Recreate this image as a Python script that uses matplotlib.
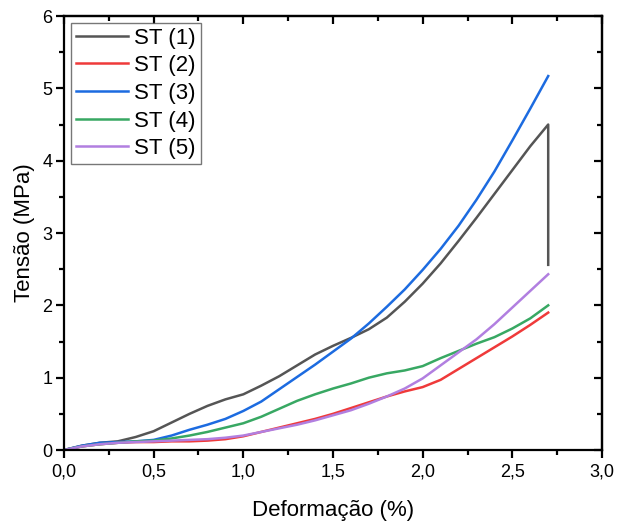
import matplotlib.pyplot as plt
from matplotlib.ticker import MultipleLocator, FuncFormatter

plt.rcParams['font.family'] = ['Liberation Sans', 'DejaVu Sans']

# deformação (%) comum às amostras
x = [0, 0.1, 0.2, 0.3, 0.4, 0.5, 0.6, 0.7, 0.8, 0.9, 1.0, 1.1, 1.2, 1.3,
     1.4, 1.5, 1.6, 1.7, 1.8, 1.9, 2.0, 2.1, 2.2, 2.3, 2.4, 2.5, 2.6, 2.7]

# ST (1) rompe em 2,7 % e cai na vertical
x_st1 = x + [2.7]
y_st1 = [0, 0.06, 0.1, 0.12, 0.18, 0.26, 0.38, 0.5, 0.61, 0.7, 0.77, 0.89,
         1.02, 1.17, 1.32, 1.44, 1.55, 1.67, 1.83, 2.05, 2.3, 2.58, 2.89,
         3.21, 3.54, 3.87, 4.2, 4.5, 2.56]
y_st2 = [0, 0.05, 0.08, 0.1, 0.11, 0.11, 0.12, 0.12, 0.13, 0.15, 0.19, 0.25,
         0.31, 0.37, 0.43, 0.5, 0.58, 0.66, 0.74, 0.81, 0.87, 0.97, 1.12,
         1.27, 1.42, 1.57, 1.73, 1.9]
y_st3 = [0, 0.06, 0.1, 0.11, 0.12, 0.14, 0.2, 0.28, 0.35, 0.43, 0.54, 0.67,
         0.84, 1.01, 1.18, 1.36, 1.54, 1.75, 1.98, 2.22, 2.49, 2.78, 3.1,
         3.46, 3.85, 4.28, 4.72, 5.17]
y_st4 = [0, 0.05, 0.08, 0.1, 0.12, 0.13, 0.16, 0.2, 0.25, 0.31, 0.37, 0.46,
         0.57, 0.68, 0.77, 0.85, 0.92, 1.0, 1.06, 1.1, 1.16, 1.27, 1.37,
         1.47, 1.56, 1.68, 1.82, 2.0]
y_st5 = [0, 0.05, 0.08, 0.1, 0.11, 0.12, 0.13, 0.14, 0.15, 0.17, 0.2, 0.25,
         0.3, 0.35, 0.41, 0.48, 0.55, 0.64, 0.74, 0.85, 0.99, 1.17, 1.35,
         1.53, 1.74, 1.97, 2.2, 2.43]

fig = plt.figure(figsize=(6.17, 5.22), dpi=100)
ax = fig.add_axes([0.1037, 0.1379, 0.872, 0.8314])

lw = 1.8
ax.plot(x_st1, y_st1, color='#555555', lw=lw, label='ST (1)')
ax.plot(x, y_st2, color='#ef3a3a', lw=lw, label='ST (2)')
ax.plot(x, y_st3, color='#1c6be0', lw=lw, label='ST (3)')
ax.plot(x, y_st4, color='#38a863', lw=lw, label='ST (4)')
ax.plot(x, y_st5, color='#b17fe0', lw=lw, label='ST (5)')

ax.set_xlim(0, 3.0)
ax.set_ylim(0, 6)
ax.xaxis.set_major_locator(MultipleLocator(0.5))
ax.xaxis.set_minor_locator(MultipleLocator(0.25))
ax.yaxis.set_major_locator(MultipleLocator(1))
ax.yaxis.set_minor_locator(MultipleLocator(0.5))
ax.xaxis.set_major_formatter(FuncFormatter(lambda v, p: f'{v:.1f}'.replace('.', ',')))

for s in ax.spines.values():
    s.set_linewidth(1.6)
ax.tick_params(which='both', direction='out', width=1.6, labelsize=13,
               top=False, right=False)
ax.tick_params(which='major', length=6)
ax.tick_params(which='minor', length=3.5)
ax.tick_params(axis='y', pad=2.5)

# ticks internos no topo e à direita
sec_x = ax.secondary_xaxis('top')
sec_x.xaxis.set_major_locator(MultipleLocator(0.5))
sec_x.xaxis.set_minor_locator(MultipleLocator(0.25))
sec_x.tick_params(which='both', direction='in', width=1.6, labeltop=False)
sec_x.tick_params(which='major', length=6)
sec_x.tick_params(which='minor', length=3.5)
sec_y = ax.secondary_yaxis('right')
sec_y.yaxis.set_major_locator(MultipleLocator(1))
sec_y.yaxis.set_minor_locator(MultipleLocator(0.5))
sec_y.tick_params(which='both', direction='in', width=1.6, labelright=False)
sec_y.tick_params(which='major', length=6)
sec_y.tick_params(which='minor', length=3.5)
for sec in (sec_x, sec_y):
    for s in sec.spines.values():
        s.set_linewidth(1.6)

ax.set_xlabel('Deformação (%)', fontsize=16, labelpad=14)
ax.set_ylabel('Tensão (MPa)', fontsize=16, labelpad=5)

leg = ax.legend(loc='upper left', fontsize=16, frameon=True, fancybox=False,
                edgecolor='#555555', handlelength=2.35, handletextpad=0.3,
                labelspacing=0.3, borderpad=0.22, borderaxespad=0.3)
leg.get_frame().set_linewidth(1.0)

fig.savefig('out.png', dpi=100)
